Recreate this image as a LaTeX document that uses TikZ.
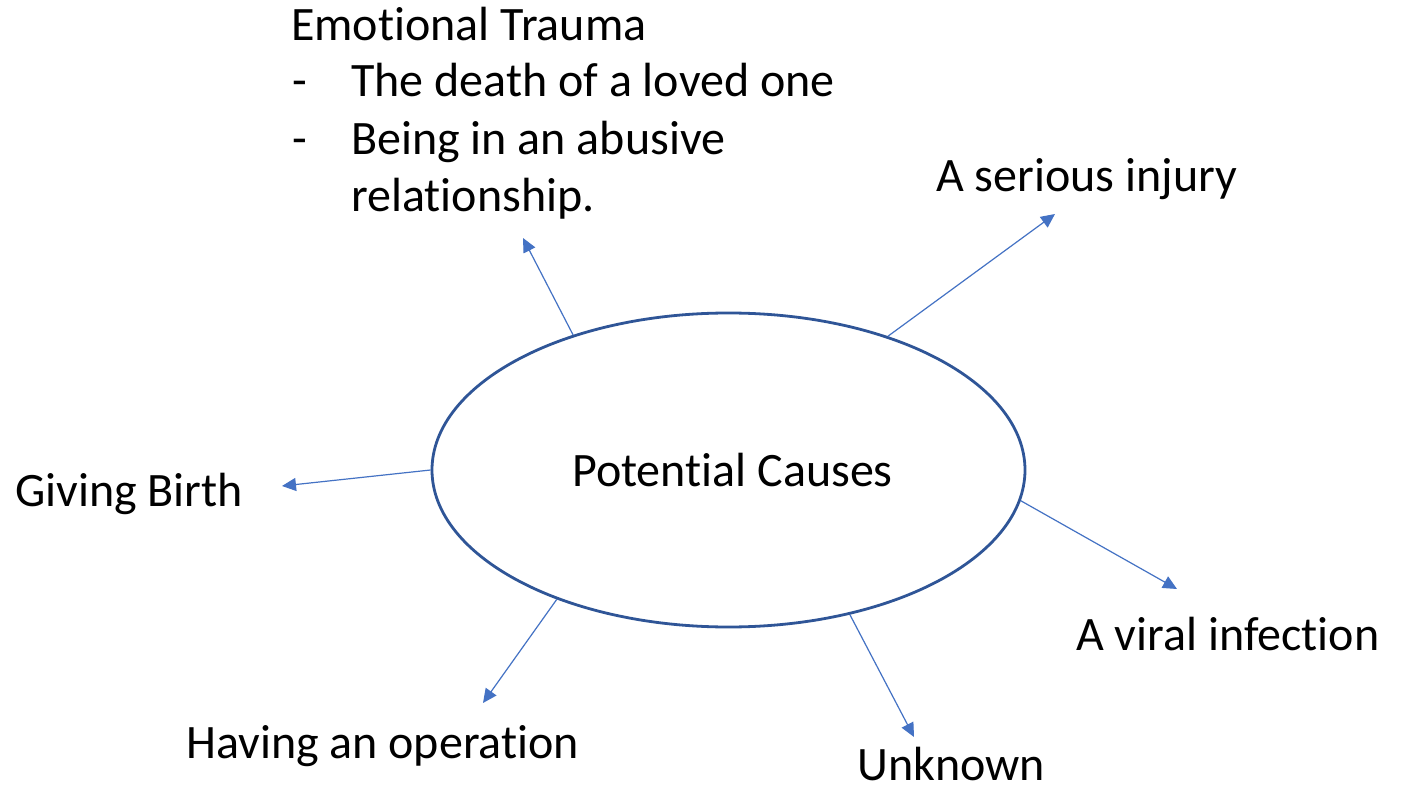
\documentclass[tikz,border=0pt]{standalone}
\usepackage{fontspec}
\setmainfont{Carlito}[Ligatures=NoCommon]
\usetikzlibrary{shapes.geometric,arrows.meta}
\definecolor{ellblue}{HTML}{2F5597}
\definecolor{arrblue}{HTML}{4472C4}
\tikzset{
  lbl/.style={anchor=base west,inner sep=0pt,font=\fontsize{48pt}{58pt}\selectfont,text=black},
  conn/.style={draw=arrblue,line width=1.2pt,-{Triangle[length=14pt,width=13pt]}},
  hub/.style={ellipse,draw=ellblue,line width=2.8pt,minimum width=593pt,minimum height=314pt,inner sep=0pt}
}
\begin{document}
\begin{tikzpicture}[x=1pt,y=-1pt]
\useasboundingbox[fill=white] (0,0) rectangle (1406,786);
\node[hub] (pc) at (728.5,470) {};
\node[lbl,anchor=base] (pct) at (732.5,486) {Potential Causes};
\node[lbl] (et1) at (291,41) {Emotional Trauma};
\node[lbl] (d1) at (292,97) {-};
\node[lbl] (et2) at (351,97) {The death of a loved one};
\node[lbl] (d2) at (292,155) {-};
\node[lbl] (et3) at (351,155) {Being in an abusive};
\node[lbl] (et4) at (351,212) {relationship.};
\node[lbl] (inj) at (936,192) {A serious injury};
\node[lbl] (gb) at (15,506) {Giving Birth};
\node[lbl] (vir) at (1076,650) {A viral infection};
\node[lbl] (op) at (186,758) {Having an operation};
\node[lbl] (unk) at (857,780) {Unknown};
\coordinate (tEt) at (523,238);
\coordinate (tGb) at (282,486);
\coordinate (tInj) at (1055,214);
\coordinate (tVir) at (1177,589);
\coordinate (tOp) at (483,703);
\coordinate (tUnk) at (914,737);
\draw[conn] (pc.139.8) -- (tEt);
\draw[conn] (pc.180.2) -- (tGb);
\draw[conn] (pc.40.9) -- (tInj);
\draw[conn] (pc.-6.2) -- (tVir);
\draw[conn] (pc.217.6) -- (tOp);
\draw[conn] (pc.-50.4) -- (tUnk);
\end{tikzpicture}
\end{document}
